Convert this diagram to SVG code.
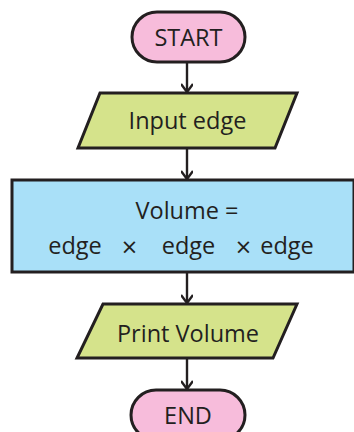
<svg xmlns="http://www.w3.org/2000/svg" width="354" height="432" viewBox="0 0 354 432">
  <defs>
    <marker id="arrow" markerWidth="12" markerHeight="12" refX="10" refY="6" orient="auto" markerUnits="userSpaceOnUse">
      <path d="M2,0 L10,6 L2,12" fill="none" stroke="#231f20" stroke-width="2.4" stroke-linejoin="miter"/>
    </marker>
  </defs>
  <style>
    .shape { stroke: #231f20; stroke-width: 3; }
    .term { fill: #f7bcdb; }
    .io { fill: #d5e38b; }
    .proc { fill: #a9e0f8; }
    .label { font-family: "Open Sans", "Noto Sans", sans-serif; font-size: 23.5px; fill: #231f20; text-anchor: middle; }
    .times { font-size: 27px; }
    .conn { stroke: #231f20; stroke-width: 2.4; fill: none; marker-end: url(#arrow); }
  </style>
  <rect width="354" height="432" fill="#ffffff"/>

  <g id="connectors">
    <line class="conn" x1="187" y1="62" x2="187" y2="92"/>
    <line class="conn" x1="187" y1="148" x2="187" y2="179"/>
    <line class="conn" x1="187" y1="272" x2="187" y2="303"/>
    <line class="conn" x1="187" y1="358" x2="187" y2="389"/>
  </g>

  <g id="start">
    <rect class="shape term" x="132" y="12" width="113" height="50" rx="25"/>
    <text class="label" x="188.5" y="46">START</text>
  </g>

  <g id="input">
    <polygon class="shape io" points="100,93 297,93 275,148 78,148"/>
    <text class="label" x="187.5" y="129">Input edge</text>
  </g>

  <g id="process">
    <rect class="shape proc" x="12" y="180" width="342" height="92"/>
    <text class="label" x="187" y="219">Volume =</text>
    <text class="label" x="75" y="254">edge</text>
    <text class="label times" x="129.5" y="257">×</text>
    <text class="label" x="188.5" y="254">edge</text>
    <text class="label times" x="243.5" y="257">×</text>
    <text class="label" x="287" y="254">edge</text>
  </g>

  <g id="output">
    <polygon class="shape io" points="103,304 297,304 273,358 77,358"/>
    <text class="label" x="188" y="342">Print Volume</text>
  </g>

  <g id="end">
    <rect class="shape term" x="131" y="390" width="114" height="50" rx="25"/>
    <text class="label" x="188" y="424">END</text>
  </g>
</svg>
